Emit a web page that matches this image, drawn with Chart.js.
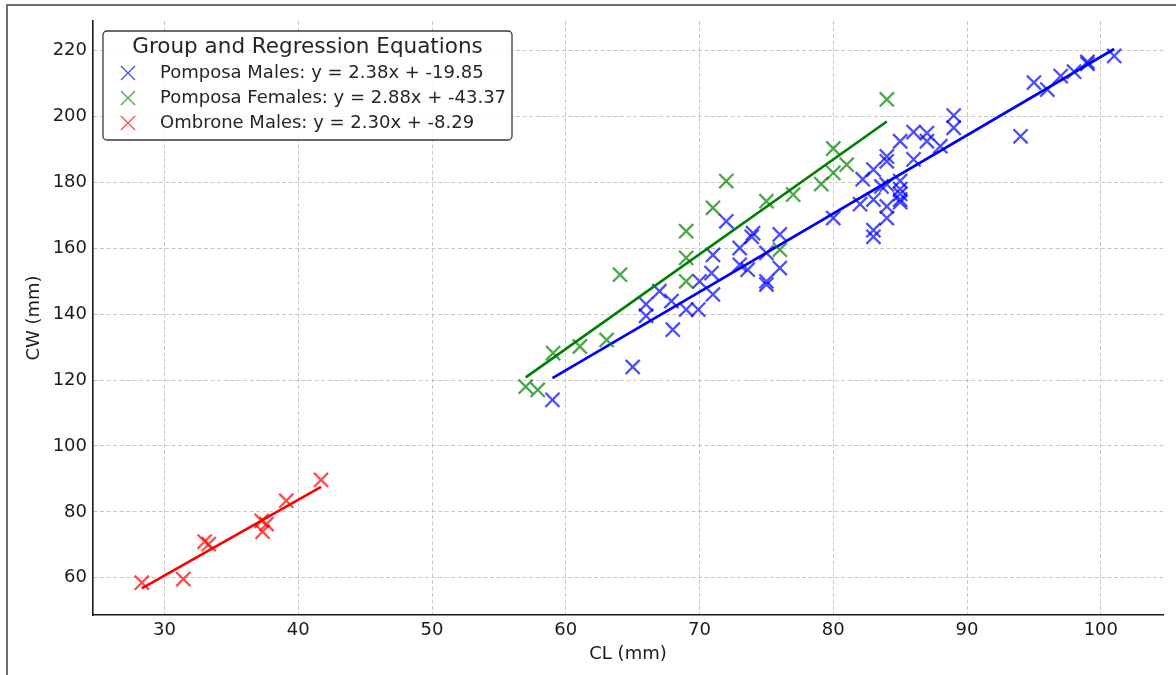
<!DOCTYPE html>
<html>
<head>
<meta charset="utf-8">
<title>CW vs CL</title>
<script src="https://cdn.jsdelivr.net/npm/chart.js@4.4.1/dist/chart.umd.min.js"></script>
<style>
    html, body { margin: 0; padding: 0; background: #fff; }
    #wrap { position: relative; width: 1176px; height: 675px; overflow: hidden; }
    #frame { position: absolute; left: 6px; top: 4px; right: -4px; bottom: -4px; border-left: 2px solid #6e6e6e; border-top: 2px solid #6e6e6e; pointer-events: none; }
</style>
</head>
<body>
<div id="wrap">
    <canvas id="chart" width="1176" height="675"></canvas>
    <div id="frame"></div>
</div>
<script>
// groups and regression coefficients (as printed in the legend)
const groupNames = ['Pomposa Males', 'Pomposa Females', 'Ombrone Males'];
const slopes = [2.38, 2.88, 2.30];
const intercepts = [-19.85, -43.37, -8.29];

// Pomposa males
const pmCL = [59.0, 65.0, 66.0, 66.0, 67.0, 67.9, 68.0, 69.0, 69.9, 70.0, 70.9, 71.0, 71.0, 72.0,
    73.0, 73.0, 73.6, 74.0, 73.9, 75.0, 75.0, 75.0, 76.0, 76.0,
    80.0, 82.0, 82.2, 83.0, 83.0, 83.0, 83.0, 83.6, 84.0, 84.0, 84.0, 84.0, 84.0,
    85.0, 85.0, 85.0, 85.0, 85.0, 85.0, 86.0, 86.0, 87.0, 87.0, 88.0, 89.0, 89.0,
    94.0, 95.0, 96.0, 97.0, 98.0, 99.0, 99.0, 101.0];
const pmCW = [114.0, 124.0, 143.0, 139.5, 147.0, 144.0, 135.3, 141.4, 141.4, 150.0, 152.5, 146.0, 158.0, 168.2,
    160.1, 155.0, 153.5, 164.6, 163.5, 158.6, 150.0, 149.0, 164.2, 154.0,
    169.2, 173.4, 181.0, 183.9, 174.8, 165.5, 163.5, 178.8, 187.9, 186.4, 179.4, 172.7, 169.2,
    180.4, 178.0, 176.5, 174.8, 174.0, 192.5, 187.0, 195.3, 192.5, 195.0, 191.0, 200.3, 196.6,
    194.0, 210.3, 208.2, 212.3, 213.6, 216.0, 216.6, 218.4];

// Pomposa females
const pfCL = [57.0, 57.9, 59.05, 61.05, 63.05, 64.05, 69.0, 69.0, 69.0, 71.0, 72.0, 75.0, 77.0, 76.0,
    79.1, 80.0, 80.0, 81.0, 84.0];
const pfCW = [118.0, 117.0, 128.2, 130.2, 132.2, 152.0, 165.2, 157.1, 150.0, 172.3, 180.4, 174.3, 176.3, 159.6,
    179.5, 190.3, 182.9, 185.4, 205.2];

// Ombrone males
const omCL = [28.3, 31.4, 33.0, 33.3, 37.26, 37.63, 37.33, 39.1, 41.7];
const omCW = [58.5, 59.6, 71.0, 70.2, 77.3, 76.3, 74.0, 83.4, 89.7];

// fitted line end points
const pmFitCL = [59.0, 101.0];
const pmFitCW = [120.6, 220.5];
const pfFitCL = [57.0, 84.0];
const pfFitCW = [120.8, 198.5];
const omFitCL = [28.3, 41.7];
const omFitCW = [56.8, 87.6];

const xTicks = [30, 40, 50, 60, 70, 80, 90, 100];
const yTicks = [60, 80, 100, 120, 140, 160, 180, 200, 220];

const FONT = "'DejaVu Sans', 'Liberation Sans', sans-serif";
const markerColors = ['rgba(0,0,255,0.7)', 'rgba(0,128,0,0.7)', 'rgba(255,0,0,0.7)'];
const lineColors = ['#0000ff', '#008000', '#ff0000'];

const pts = (xs, ys) => xs.map((x, i) => ({ x: x, y: ys[i] }));

function scatterSet(i, xs, ys, order) {
    return {
        type: 'scatter',
        label: groupNames[i] + ': y = ' + slopes[i].toFixed(2) + 'x + ' + intercepts[i].toFixed(2),
        data: pts(xs, ys),
        pointStyle: 'crossRot',
        pointRadius: 10,
        pointHoverRadius: 10,
        pointBorderWidth: 2.3,
        borderColor: markerColors[i],
        backgroundColor: markerColors[i],
        order: order
    };
}

function fitSet(i, xs, ys, order) {
    return {
        type: 'line',
        label: 'fit',
        data: pts(xs, ys),
        borderColor: lineColors[i],
        borderWidth: 2.7,
        pointRadius: 0,
        fill: false,
        tension: 0,
        order: order,
        isFit: true
    };
}

// legend drawn inside the plot, upper left, like the original
const legendBox = {
    id: 'legendBox',
    afterDraw(chart) {
        const ctx = chart.ctx;
        const a = chart.chartArea;
        const x0 = a.left + 10, y0 = a.top + 10, w = 409, h = 109;
        ctx.save();
        ctx.beginPath();
        ctx.roundRect(x0, y0, w, h, 4);
        ctx.fillStyle = 'rgba(255,255,255,0.85)';
        ctx.fill();
        ctx.strokeStyle = '#3a3a3a';
        ctx.lineWidth = 1.3;
        ctx.stroke();

        ctx.fillStyle = '#262626';
        ctx.textBaseline = 'middle';
        ctx.textAlign = 'center';
        ctx.font = '21.5px ' + FONT;
        ctx.fillText('Group and Regression Equations', x0 + w / 2, y0 + 16);

        ctx.textAlign = 'left';
        ctx.font = '18px ' + FONT;
        const sets = chart.data.datasets.filter(d => !d.isFit);
        sets.forEach((d, k) => {
            const cy = y0 + 42 + k * 25;
            ctx.strokeStyle = d.borderColor;
            Chart.helpers.drawPoint(ctx, { pointStyle: 'crossRot', radius: 10, borderWidth: 2.3, rotation: 0 }, x0 + 25, cy);
            ctx.fillStyle = '#262626';
            ctx.fillText(d.label, x0 + 57, cy);
        });
        ctx.restore();
    }
};

new Chart(document.getElementById('chart'), {
    data: {
        datasets: [
            scatterSet(0, pmCL, pmCW, 6),
            fitSet(0, pmFitCL, pmFitCW, 5),
            scatterSet(1, pfCL, pfCW, 4),
            fitSet(1, pfFitCL, pfFitCW, 3),
            scatterSet(2, omCL, omCW, 2),
            fitSet(2, omFitCL, omFitCW, 1)
        ]
    },
    options: {
        responsive: false,
        animation: false,
        devicePixelRatio: 1,
        layout: { padding: { left: 0, top: 21, right: 13, bottom: 0 } },
        plugins: { legend: { display: false }, tooltip: { enabled: false } },
        scales: {
            x: {
                type: 'linear',
                min: 24.65,
                max: 104.65,
                afterBuildTicks: s => { s.ticks = xTicks.map(v => ({ value: v })); },
                afterFit: s => { s.height = 60; },
                grid: { color: 'rgba(176,176,176,0.7)', lineWidth: 1, drawTicks: false },
                border: { display: true, color: '#1a1a1a', width: 1.6, dash: [4, 2.5] },
                ticks: { color: '#1a1a1a', font: { family: FONT, size: 18 }, padding: 5 },
                title: { display: true, text: 'CL (mm)', color: '#1a1a1a', font: { family: FONT, size: 18 }, padding: { top: 0, bottom: 10 } }
            },
            y: {
                type: 'linear',
                min: 48.7,
                max: 229,
                afterBuildTicks: s => { s.ticks = yTicks.map(v => ({ value: v })); },
                afterFit: s => { s.width = 93; },
                grid: { color: 'rgba(176,176,176,0.7)', lineWidth: 1, drawTicks: false },
                border: { display: true, color: '#1a1a1a', width: 1.6, dash: [4, 2.5] },
                ticks: { color: '#1a1a1a', font: { family: FONT, size: 18 }, padding: 6 },
                title: { display: true, text: 'CW (mm)', color: '#1a1a1a', font: { family: FONT, size: 18 }, padding: { top: 24, bottom: 0 } }
            }
        }
    },
    plugins: [legendBox]
});
</script>
</body>
</html>
